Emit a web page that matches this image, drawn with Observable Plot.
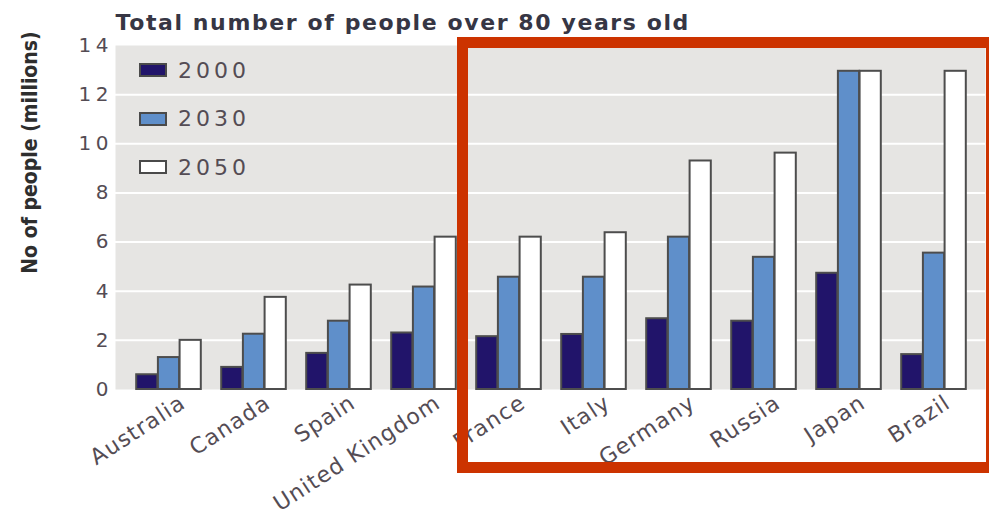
<!DOCTYPE html>
<html>
<head>
<meta charset="utf-8">
<script src="https://cdn.jsdelivr.net/npm/d3@7"></script>
<script src="https://cdn.jsdelivr.net/npm/@observablehq/plot@0.6"></script>
<style>
  html, body { margin: 0; padding: 0; background: #fff; overflow: hidden; }
  #wrap { position: relative; width: 989px; height: 516px; }
  #wrap svg { display: block; }
  g[aria-label="y-axis tick label"] text { letter-spacing: 4.5px; }
  .legend { position: absolute; left: 139px; top: 56px; font-family: "DejaVu Sans", sans-serif; }
  .legend .row { display: flex; align-items: center; height: 28px; margin-bottom: 20.5px; }
  .legend .sw { width: 28px; height: 14px; box-sizing: border-box; border: 2px solid #4a4a4a; margin-right: 11px; }
  .legend .lab { font-size: 22px; letter-spacing: 4px; color: #544c54; }
  .highlight { position: absolute; left: 457px; top: 37px; width: 540px; height: 436px;
               box-sizing: border-box; border: 11px solid #cc3300; pointer-events: none; }
</style>
</head>
<body>
<div id="wrap"></div>
<script>
// Population aged over 80, in millions
const countries = ["Australia", "Canada", "Spain", "United Kingdom", "France", "Italy", "Germany", "Russia", "Japan", "Brazil"];
const years = ["2000", "2030", "2050"];
const values2000 = [0.6, 0.9, 1.47, 2.3, 2.15, 2.24, 2.88, 2.78, 4.73, 1.42];
const values2030 = [1.3, 2.25, 2.78, 4.17, 4.57, 4.57, 6.2, 5.38, 12.95, 5.55];
const values2050 = [2.0, 3.75, 4.25, 6.2, 6.2, 6.38, 9.3, 9.62, 12.95, 12.95];
const yTicks = [0, 2, 4, 6, 8, 10, 12, 14];
const gridValues = [2, 4, 6, 8, 10, 12];
const yearColors = ["#21146a", "#5f8fca", "#ffffff"];
const titleText = "Total number of people over 80 years old";
const yLabelText = "No of people (millions)";

const series = [values2000, values2030, values2050];
const rows = years.flatMap((year, j) =>
  countries.map((country, i) => ({country, year, value: series[j][i]}))
);

const barWidth = 21.7;
const barInset = 31.9;
const ink = "#544c54";

const chart = Plot.plot({
  width: 989,
  height: 516,
  marginLeft: 115,
  marginRight: 4,
  marginTop: 45,
  marginBottom: 127,
  style: {fontFamily: "DejaVu Sans, sans-serif", background: "transparent"},
  x: {type: "band", domain: countries, padding: 0, insetLeft: 8, insetRight: 7, axis: null},
  y: {domain: [0, 14], axis: null},
  color: {domain: years, range: yearColors},
  marks: [
    Plot.frame({fill: "#e6e5e3", stroke: "none"}),
    Plot.ruleY(gridValues, {stroke: "#ffffff", strokeWidth: 2}),
    ...years.map((year, j) =>
      Plot.barY(rows.filter(d => d.year === year), {
        x: "country",
        y: "value",
        fill: "year",
        stroke: "#4d4d4d",
        strokeWidth: 2,
        insetLeft: barInset,
        insetRight: barInset,
        dx: (j - 1) * barWidth
      })
    ),
    Plot.axisY({ticks: yTicks, tickSize: 0, tickPadding: 2.5, fontSize: 20, fill: ink, label: null}),
    Plot.text(countries, {
      x: d => d,
      frameAnchor: "bottom",
      text: d => d,
      rotate: -33,
      textAnchor: "end",
      lineAnchor: "bottom",
      dx: 18,
      dy: 17,
      fontSize: 22,
      fill: ink
    }),
    Plot.text([titleText], {
      frameAnchor: "top-left",
      text: d => d,
      textAnchor: "start",
      lineAnchor: "bottom",
      dy: -16,
      fontSize: 22,
      fontWeight: "bold",
      fill: "#363644"
    }),
    Plot.text([yLabelText], {
      frameAnchor: "left",
      text: d => d,
      rotate: -90,
      textAnchor: "middle",
      lineAnchor: "middle",
      dx: -85,
      dy: -65,
      fontSize: 21,
      fontWeight: "bold",
      fontFamily: "DejaVu Sans Condensed, DejaVu Sans, sans-serif",
      fill: "#2e2e2e"
    })
  ]
});

// Letter spacing for the wide lettering of the title and country names
d3.select(chart).selectAll("text").each(function() {
  const t = this.textContent;
  if (t === titleText) this.style.letterSpacing = "1.6px";
  else if (countries.includes(t)) this.style.letterSpacing = "1.2px";
  else if (t === yLabelText) this.style.fontStretch = "condensed";
});

const wrap = document.getElementById("wrap");
wrap.appendChild(chart);

// Legend swatches drawn from the same year/colour lists
const legend = document.createElement("div");
legend.className = "legend";
years.forEach((year, j) => {
  const row = document.createElement("div");
  row.className = "row";
  const sw = document.createElement("div");
  sw.className = "sw";
  sw.style.background = yearColors[j];
  const lab = document.createElement("span");
  lab.className = "lab";
  lab.textContent = year;
  row.appendChild(sw);
  row.appendChild(lab);
  legend.appendChild(row);
});
wrap.appendChild(legend);

// Highlight box around the right-hand group of countries
const box = document.createElement("div");
box.className = "highlight";
wrap.appendChild(box);
</script>
</body>
</html>
